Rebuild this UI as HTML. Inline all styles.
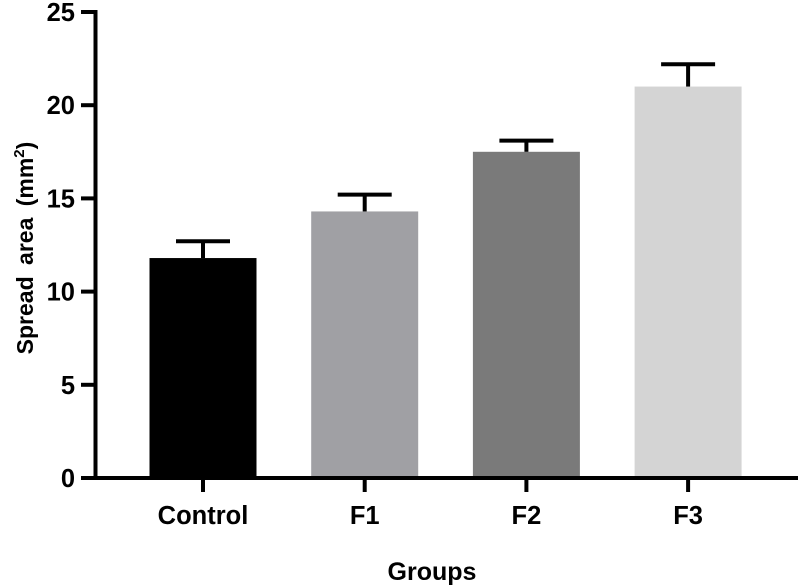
<!DOCTYPE html>
<html><head><meta charset="utf-8"><style>
html,body{margin:0;padding:0;background:#fff;}
svg{display:block;font-family:"Liberation Sans",Arial,sans-serif;font-weight:bold;}
</style></head><body>
<svg id="chart" width="800" height="587" viewBox="0 0 800 587"></svg>
<script>
const categories = ["Control","F1","F2","F3"];
const values = [11.8, 14.3, 17.5, 21.0];
const errors = [0.9, 0.9, 0.6, 1.2];
const yTicks = [0,5,10,15,20,25];
const colors = ["#000000","#a0a0a4","#7a7a7a","#d4d4d4"];

const svg = document.getElementById('chart');
const NS = "http://www.w3.org/2000/svg";
const y0 = 478, yTop = 12, yMax = 25;
const yScale = v => y0 - (v / yMax) * (y0 - yTop);
const x0 = 203, step = 161.7, bw = 107;
const xScale = i => x0 + i * step;
function mk(tag, attrs, parent){
  const e = document.createElementNS(NS, tag);
  for (const k in attrs) e.setAttribute(k, attrs[k]);
  (parent||svg).appendChild(e);
  return e;
}
categories.forEach((c,i)=>{
  const cx = xScale(i);
  const r = mk('rect',{x:cx-bw/2,y:yScale(values[i]),width:bw,height:y0-yScale(values[i]),fill:colors[i]});
  
  
  const g = mk('g',{stroke:'#000','stroke-width':4});
  
  
  mk('line',{x1:cx,x2:cx,y1:yScale(values[i]),y2:yScale(values[i]+errors[i])},g);
  mk('line',{x1:cx-27,x2:cx+27,y1:yScale(values[i]+errors[i]),y2:yScale(values[i]+errors[i])},g);
  const t = mk('line',{x1:cx,x2:cx,y1:y0,y2:492,stroke:'#000','stroke-width':4});
  
  
  const l = mk('text',{x:cx,y:524,'text-anchor':'middle','font-size':25.5,fill:'#000'});
  l.textContent = c;
  
  
});
const ya = mk('line',{x1:95.5,x2:95.5,y1:10,y2:480,stroke:'#000','stroke-width':4});


const xa = mk('line',{x1:81,x2:798,y1:478,y2:478,stroke:'#000','stroke-width':4});


yTicks.forEach(v=>{
  const y = yScale(v);
  const t = mk('line',{x1:81,x2:96,y1:y,y2:y,stroke:'#000','stroke-width':4});
  
  
  const l = mk('text',{x:75,y:y+9,'text-anchor':'end','font-size':25.5,fill:'#000'});
  l.textContent = v;
  
  
});
const xt = mk('text',{x:432,y:580,'text-anchor':'middle','font-size':25,fill:'#000'});
xt.textContent = 'Groups';


const yt = mk('text',{x:0,y:0,'text-anchor':'middle','font-size':23,'word-spacing':5,fill:'#000',transform:'translate(33,248) rotate(-90)'});
yt.innerHTML = 'Spread area (mm<tspan font-size="15" dy="-9">2</tspan><tspan dy="9">)</tspan>';


</script>
</body></html>
